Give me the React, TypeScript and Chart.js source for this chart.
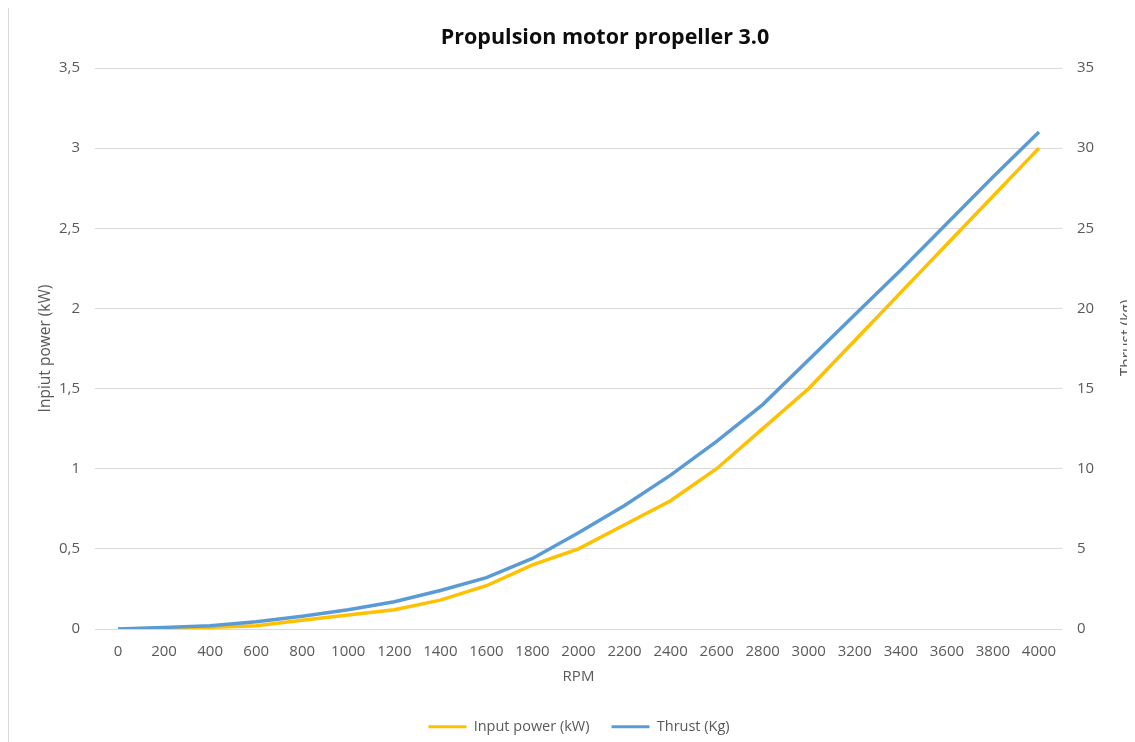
import React, { useEffect, useRef } from "react";
import { Chart, registerables } from "chart.js";

Chart.register(...registerables);

const rpm = [0, 200, 400, 600, 800, 1000, 1200, 1400, 1600, 1800, 2000, 2200, 2400, 2600, 2800, 3000, 3200, 3400, 3600, 3800, 4000];
const inputPower = [0, 0.005, 0.01, 0.02, 0.055, 0.088, 0.12, 0.18, 0.27, 0.4, 0.5, 0.65, 0.8, 1.0, 1.25, 1.5, 1.8, 2.1, 2.4, 2.7, 3.0];
const thrust = [0, 0.1, 0.2, 0.45, 0.8, 1.2, 1.7, 2.4, 3.2, 4.4, 6.0, 7.7, 9.6, 11.7, 14.0, 16.8, 19.6, 22.4, 25.3, 28.2, 31.0];

const chartTitle = "Propulsion motor propeller 3.0";
const leftTitle = "Inpiut power (kW)";
const rightTitle = "Thrust (kg)";
const xTitle = "RPM";
const seriesNames = ["Input power (kW)", "Thrust (Kg)"];

const FONT = "'Open Sans', 'DejaVu Sans', sans-serif";
const GRAY = "#595959";
const YELLOW = "#FFC000";
const BLUE = "#5B9BD5";

const comma = (v: number | string) => String(v).replace(".", ",");

export default function App() {
  const ref = useRef<HTMLCanvasElement | null>(null);

  useEffect(() => {
    document.documentElement.style.overflow = "hidden";
    document.body.style.overflow = "hidden";
    if (!ref.current) return;

    const textPlugin = {
      id: "extraText",
      afterDraw(chart: any) {
        const { ctx, chartArea } = chart;
        ctx.save();
        ctx.fillStyle = "#0d0d0d";
        ctx.font = `bold 21.5px ${FONT}`;
        ctx.textAlign = "center";
        ctx.textBaseline = "middle";
        ctx.fillText(chartTitle, 596, 30);

        ctx.translate(chartArea.right + 58, 330);
        ctx.rotate(-Math.PI / 2);
        ctx.fillStyle = GRAY;
        ctx.font = `15.5px ${FONT}`;
        ctx.textAlign = "center";
        ctx.textBaseline = "top";
        ctx.fillText(rightTitle, 0, 0);
        ctx.restore();
      },
    };

    const chart = new Chart(ref.current, {
      type: "line",
      data: {
        labels: rpm.map(String),
        datasets: [
          {
            label: seriesNames[0],
            data: inputPower,
            borderColor: YELLOW,
            backgroundColor: YELLOW,
            borderWidth: 3.5,
            pointRadius: 0,
            tension: 0,
            yAxisID: "y",
            order: 1,
          },
          {
            label: seriesNames[1],
            data: thrust,
            borderColor: BLUE,
            backgroundColor: BLUE,
            borderWidth: 3.5,
            pointRadius: 0,
            tension: 0,
            yAxisID: "y1",
            order: 0,
          },
        ],
      },
      options: {
        animation: false,
        responsive: true,
        maintainAspectRatio: false,
        layout: { padding: { top: 60, left: 14, right: 0, bottom: -2 } },
        plugins: {
          title: { display: false },
          tooltip: { enabled: false },
          legend: {
            display: true,
            position: "bottom",
            labels: {
              font: { family: FONT, size: 14.5 },
              color: GRAY,
              boxWidth: 38,
              boxHeight: 3,
              padding: 22,
              sort: (a: any, b: any) => a.datasetIndex - b.datasetIndex,
              generateLabels: (c: any) => {
                const items = Chart.defaults.plugins.legend.labels.generateLabels(c);
                return items.map((it: any) => ({ ...it, lineWidth: 0, fillStyle: it.strokeStyle }));
              },
            },
          },
        },
        scales: {
          x: {
            type: "category",
            offset: true,
            grid: { display: false, drawTicks: false },
            border: { display: false },
            ticks: { color: GRAY, font: { family: FONT, size: 15 }, padding: 14, maxRotation: 0, autoSkip: false },
            title: { display: true, text: xTitle, color: GRAY, font: { family: FONT, size: 15 }, padding: { top: 0, bottom: 12 } },
            afterFit: (s: any) => { s.height = 68.5; },
          },
          y: {
            position: "left",
            min: 0,
            max: 3.5,
            grid: { color: "#d9d9d9", lineWidth: 1, drawTicks: false },
            border: { display: false },
            ticks: { stepSize: 0.5, color: GRAY, font: { family: FONT, size: 15 }, padding: 15, callback: (v: any) => comma(v) },
            title: { display: true, text: leftTitle, color: GRAY, font: { family: FONT, size: 15.5 }, padding: { top: 13, bottom: 0 } },
            afterFit: (s: any) => { s.width = 72; },
          },
          y1: {
            position: "right",
            min: 0,
            max: 35,
            grid: { display: false, drawTicks: false },
            border: { display: false },
            ticks: { stepSize: 5, color: GRAY, font: { family: FONT, size: 15 }, padding: 15 },
            afterFit: (s: any) => { s.width = 73; },
          },
        },
      },
      plugins: [textPlugin],
    } as any);

    return () => chart.destroy();
  }, []);

  return (
    <div style={{ width: 1127, height: 734, borderLeft: "1px solid #d9d9d9", boxSizing: "border-box" }}>
      <div style={{ position: "relative", width: 1126, height: 734 }}>
        <canvas ref={ref} />
      </div>
    </div>
  );
}
